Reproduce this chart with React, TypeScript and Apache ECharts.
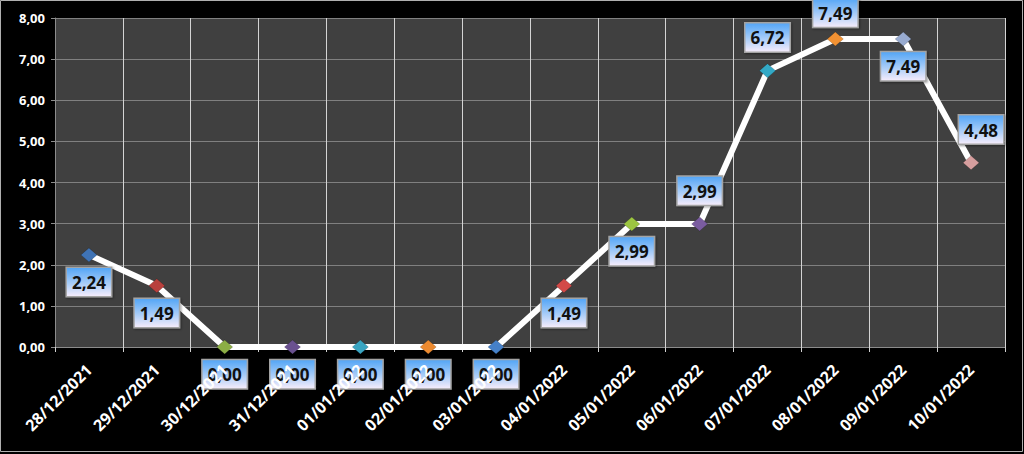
import React, { useEffect, useRef } from "react";
import * as echarts from "echarts";

const categories = [
  "28/12/2021", "29/12/2021", "30/12/2021", "31/12/2021", "01/01/2022", "02/01/2022", "03/01/2022",
  "04/01/2022", "05/01/2022", "06/01/2022", "07/01/2022", "08/01/2022", "09/01/2022", "10/01/2022",
];
const values = [2.24, 1.49, 0, 0, 0, 0, 0, 1.49, 2.99, 2.99, 6.72, 7.49, 7.49, 4.48];
const markerColors = [
  "#3f73b5", "#b8403d", "#8cae45", "#6a5190", "#3aa5c2", "#ec8a30", "#4580c8",
  "#d24a48", "#9cc541", "#7a5ca0", "#33a9c6", "#f39233", "#98abd0", "#d69e9e",
];
const labelPlacement = ["bottom", "bottom", "bottom", "bottom", "bottom", "bottom", "bottom",
  "bottom", "bottom", "top", "top", "top", "bottom", "top"];
const yTicks = { min: 0, max: 8, interval: 1 };

const fmt = (v: number) => v.toFixed(2).replace(".", ",");

export default function App() {
  const ref = useRef<HTMLDivElement>(null);
  useEffect(() => {
    const chart = echarts.init(ref.current!, null, { renderer: "svg" });
    const boxBg = new echarts.graphic.LinearGradient(0, 0, 0, 1, [
      { offset: 0, color: "#55a6f6" },
      { offset: 0.55, color: "#a9cdf8" },
      { offset: 1, color: "#f3ebfb" },
    ]);
    const data = values.map((v, i) => ({
      value: v,
      itemStyle: { color: markerColors[i], borderColor: "rgba(0,0,0,0.35)", borderWidth: 0.5 },
      label: {
        position: labelPlacement[i],
        distance: labelPlacement[i] === "top" ? (i === 11 ? 5 : 12) : 6,
        offset: i === 13 ? [10, 0] : [0, 0],
      },
    }));
    const labelFont = "'Open Sans', 'Noto Sans', sans-serif";
    chart.setOption({
      animation: false,
      backgroundColor: "#000000",
      grid: {
        left: 55, top: 18, right: 19, bottom: 107,
        show: true, backgroundColor: "#404040", borderWidth: 0,
      },
      graphic: [
        {
          type: "rect",
          shape: { x: 0.5, y: 0.5, width: 1022, height: 451 },
          style: { fill: "none", stroke: "#b0b0b0", lineWidth: 1 },
          silent: true,
        },
      ],
      xAxis: [
        {
          type: "category",
          data: categories,
          boundaryGap: true,
          axisLine: { show: true, lineStyle: { color: "#8c8c8c", width: 1 } },
          axisTick: { show: true, interval: 0, length: 5, lineStyle: { color: "#d0d0d0" } },
          splitLine: { show: true, interval: 0, lineStyle: { color: "#d4d4d4", width: 1 } },
          axisLabel: { show: false, interval: 0 },
        },
        {
          type: "category",
          data: categories,
          position: "bottom",
          z: 20,
          boundaryGap: true,
          axisLine: { show: false },
          axisTick: { show: false },
          splitLine: { show: false },
          axisLabel: {
            show: true,
            interval: 0,
            rotate: 45,
            margin: 20,
            color: "#ffffff",
            fontWeight: "bold",
            fontSize: 16,
            fontFamily: labelFont,
          },
        },
      ],
      yAxis: {
        type: "value",
        min: yTicks.min,
        max: yTicks.max,
        interval: yTicks.interval,
        axisLine: { show: true, lineStyle: { color: "#8c8c8c" } },
        axisTick: { show: true, length: 4, lineStyle: { color: "#8c8c8c" } },
        splitLine: { show: true, lineStyle: { color: "#808080", width: 1 } },
        axisLabel: {
          formatter: (v: number) => fmt(v),
          color: "#ffffff",
          fontWeight: "bold",
          fontSize: 13,
          fontFamily: labelFont,
          margin: 10,
        },
      },
      series: [
        {
          type: "line",
          data,
          xAxisIndex: 0,
          symbol: "diamond",
          symbolSize: [16, 14],
          lineStyle: { color: "#ffffff", width: 6 },
          z: 3,
          label: {
            show: true,
            formatter: (p: any) => fmt(p.value),
            color: "#111111",
            fontWeight: "bold",
            fontSize: 17,
            fontFamily: labelFont,
            lineHeight: 21,
            padding: [4, 5, 3, 5],
            backgroundColor: boxBg,
            borderColor: "#a3a3a3",
            borderWidth: 1.5,
            shadowColor: "rgba(0,0,0,0.4)",
            shadowBlur: 2,
            shadowOffsetX: 1,
            shadowOffsetY: 1,
          },
        },
      ],
    });
    return () => chart.dispose();
  }, []);
  return (
    <div
      ref={ref}
      style={{ position: "absolute", left: 0, top: 0, width: 1024, height: 454 }}
    />
  );
}
